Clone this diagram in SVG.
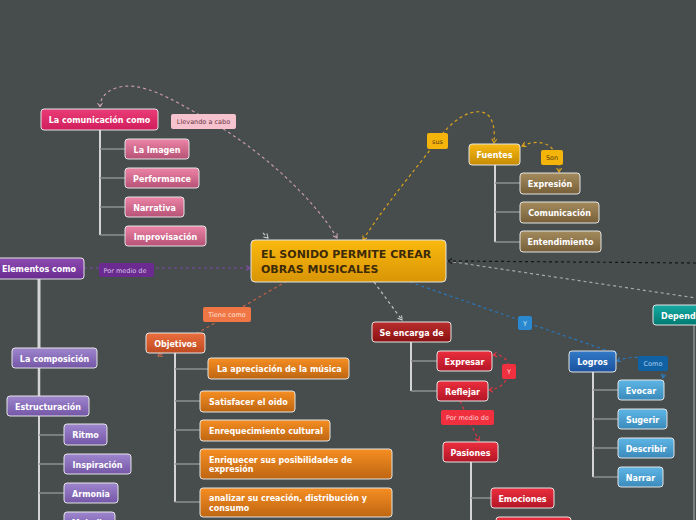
<svg xmlns="http://www.w3.org/2000/svg" width="696" height="520" viewBox="0 0 696 520">
<defs>
<linearGradient id="gCentral" x1="0" y1="0" x2="0" y2="1"><stop offset="0" stop-color="#fbb90f"/><stop offset="1" stop-color="#d89506"/></linearGradient>
<linearGradient id="gComm" x1="0" y1="0" x2="0" y2="1"><stop offset="0" stop-color="#ea3c76"/><stop offset="1" stop-color="#d01e5c"/></linearGradient>
<linearGradient id="gPink" x1="0" y1="0" x2="0" y2="1"><stop offset="0" stop-color="#ec84a6"/><stop offset="1" stop-color="#b65276"/></linearGradient>
<linearGradient id="gGold" x1="0" y1="0" x2="0" y2="1"><stop offset="0" stop-color="#f6b812"/><stop offset="1" stop-color="#c68b04"/></linearGradient>
<linearGradient id="gBrown" x1="0" y1="0" x2="0" y2="1"><stop offset="0" stop-color="#a48b5d"/><stop offset="1" stop-color="#765f39"/></linearGradient>
<linearGradient id="gPurple" x1="0" y1="0" x2="0" y2="1"><stop offset="0" stop-color="#8e4cb0"/><stop offset="1" stop-color="#692b91"/></linearGradient>
<linearGradient id="gLilac" x1="0" y1="0" x2="0" y2="1"><stop offset="0" stop-color="#9e86ce"/><stop offset="1" stop-color="#7456a6"/></linearGradient>
<linearGradient id="gObj" x1="0" y1="0" x2="0" y2="1"><stop offset="0" stop-color="#ec6e3e"/><stop offset="1" stop-color="#be4a20"/></linearGradient>
<linearGradient id="gOrange" x1="0" y1="0" x2="0" y2="1"><stop offset="0" stop-color="#f68e22"/><stop offset="1" stop-color="#be6612"/></linearGradient>
<linearGradient id="gDarkRed" x1="0" y1="0" x2="0" y2="1"><stop offset="0" stop-color="#ba2e2e"/><stop offset="1" stop-color="#8a1010"/></linearGradient>
<linearGradient id="gRed" x1="0" y1="0" x2="0" y2="1"><stop offset="0" stop-color="#ec2e3e"/><stop offset="1" stop-color="#b21626"/></linearGradient>
<linearGradient id="gBlue" x1="0" y1="0" x2="0" y2="1"><stop offset="0" stop-color="#327ac8"/><stop offset="1" stop-color="#1a529e"/></linearGradient>
<linearGradient id="gSky" x1="0" y1="0" x2="0" y2="1"><stop offset="0" stop-color="#5eb6e6"/><stop offset="1" stop-color="#3a8aba"/></linearGradient>
<linearGradient id="gTeal" x1="0" y1="0" x2="0" y2="1"><stop offset="0" stop-color="#16aaa2"/><stop offset="1" stop-color="#007a72"/></linearGradient>
<marker id="aPink" markerWidth="6" markerHeight="6" refX="5" refY="3" orient="auto-start-reverse" markerUnits="userSpaceOnUse"><path d="M1,0.5 L5,3 L1,5.5" fill="none" stroke="#d0a8b8" stroke-width="1"/></marker>
<marker id="aGold" markerWidth="6" markerHeight="6" refX="5" refY="3" orient="auto-start-reverse" markerUnits="userSpaceOnUse"><path d="M1,0.5 L5,3 L1,5.5" fill="none" stroke="#e6a818" stroke-width="1"/></marker>
<marker id="aPurple" markerWidth="6" markerHeight="6" refX="5" refY="3" orient="auto-start-reverse" markerUnits="userSpaceOnUse"><path d="M1,0.5 L5,3 L1,5.5" fill="none" stroke="#8a50b8" stroke-width="1"/></marker>
<marker id="aOrange" markerWidth="6" markerHeight="6" refX="5" refY="3" orient="auto-start-reverse" markerUnits="userSpaceOnUse"><path d="M1,0.5 L5,3 L1,5.5" fill="none" stroke="#e07048" stroke-width="1"/></marker>
<marker id="aGray" markerWidth="6" markerHeight="6" refX="5" refY="3" orient="auto-start-reverse" markerUnits="userSpaceOnUse"><path d="M1,0.5 L5,3 L1,5.5" fill="none" stroke="#d0d0d0" stroke-width="1"/></marker>
<marker id="aBlue" markerWidth="6" markerHeight="6" refX="5" refY="3" orient="auto-start-reverse" markerUnits="userSpaceOnUse"><path d="M1,0.5 L5,3 L1,5.5" fill="none" stroke="#2a80c8" stroke-width="1"/></marker>
<marker id="aRed" markerWidth="6" markerHeight="6" refX="5" refY="3" orient="auto-start-reverse" markerUnits="userSpaceOnUse"><path d="M1,0.5 L5,3 L1,5.5" fill="none" stroke="#e83444" stroke-width="1"/></marker>
<marker id="aBlack" markerWidth="6" markerHeight="6" refX="5" refY="3" orient="auto-start-reverse" markerUnits="userSpaceOnUse"><path d="M1,0.5 L5,3 L1,5.5" fill="none" stroke="#151515" stroke-width="1"/></marker>
</defs>
<style>
.n{stroke:#e4e4e4;stroke-width:1}
.t{font-family:"DejaVu Sans","Liberation Sans",sans-serif;font-weight:bold;font-size:8px;fill:#ffffff;text-anchor:middle}
.tl{font-family:"DejaVu Sans","Liberation Sans",sans-serif;font-weight:bold;font-size:8px;fill:#ffffff}
.lab{font-family:"DejaVu Sans","Liberation Sans",sans-serif;font-size:6.5px;text-anchor:middle}
.rel{fill:none;stroke-width:1.2;stroke-dasharray:3,3}
.trunk{fill:none;stroke:#d4d4d4;stroke-width:2}
.br{fill:none;stroke:#8c8f8f;stroke-width:1.5}
</style>
<rect x="0" y="0" width="696" height="520" fill="#474c4c"/>

<g id="connectors">
  <path class="rel" stroke="#c49aaa" d="M337,238 C315,200 262,150 205,118 C170,98 140,80 116,88 C104,92 100,100 100,107" marker-start="url(#aPink)" marker-end="url(#aPink)"/>
  <path class="rel" stroke="#dca21a" d="M363,240 C385,205 415,170 437,141 C452,120 468,110 482,112 C494,115 495,130 494,143" marker-start="url(#aGold)" marker-end="url(#aGold)"/>
  <path class="rel" stroke="#dca21a" d="M522,146 C545,136 560,148 559,172" marker-start="url(#aGold)" marker-end="url(#aGold)"/>
  <path class="rel" stroke="#7a48a8" d="M84,268 L250,268" marker-end="url(#aPurple)"/>
  <path class="rel" stroke="#c06444" d="M287,281 L158,356" marker-end="url(#aOrange)"/>
  <path class="rel" stroke="#c4c4c4" d="M374,282 L402,320" marker-end="url(#aGray)"/>
  <path class="rel" stroke="#c4c4c4" d="M263,233 L268,238" marker-end="url(#aGray)"/>
  <path class="rel" stroke="#2a76bc" d="M410,282 L617,354" marker-end="url(#aBlue)"/>
  <path class="rel" stroke="#2a76bc" d="M617,361 C640,352 665,360 663,378" marker-start="url(#aBlue)" marker-end="url(#aBlue)"/>
  <path class="rel" stroke="#a8a8a8" d="M447,261 L696,298"/>
  <path class="rel" stroke="#161616" d="M696,263 L448,261" marker-end="url(#aBlack)"/>
  <path class="rel" stroke="#e03444" d="M493,355 C515,352 515,388 489,390" marker-start="url(#aRed)" marker-end="url(#aRed)"/>
  <path class="rel" stroke="#e03444" d="M460,401 L479,441" marker-end="url(#aRed)"/>

  <path class="trunk" d="M100,130 V235"/>
  <path class="br" d="M100,149 H125 M100,178 H125 M100,207 H125 M100,235 H125"/>
  <path class="trunk" d="M495,165 V242"/>
  <path class="br" d="M495,183 H520 M495,212 H520 M495,242 H520"/>
  <path class="trunk" style="stroke-width:3" d="M39,279 V348"/>
  <path class="trunk" style="stroke-width:2.5" d="M39,368 V396"/>
  <path class="trunk" d="M39,416 V520"/>
  <path class="br" d="M39,435 H64 M39,464 H64 M39,493 H64 M39,521 H64"/>
  <path class="trunk" d="M175,353 V502"/>
  <path class="br" d="M175,369 H208 M175,401 H200 M175,430 H200 M175,464 H200 M175,502 H200"/>
  <path class="trunk" d="M411,342 V391"/>
  <path class="br" d="M411,361 H437 M411,391 H437"/>
  <path class="trunk" d="M471,462 V520"/>
  <path class="br" d="M471,498 H491"/>
  <path class="trunk" d="M593,372 V477"/>
  <path class="br" d="M593,390 H618 M593,419 H618 M593,448 H618 M593,477 H618"/>
  <path class="br" d="M694,325 V520"/>
</g>

<g id="central">
  <rect class="n" x="251" y="240" width="195" height="42" rx="4" fill="url(#gCentral)" stroke="#e8b030"/>
  <text x="261" y="257.5" style="font-family:'DejaVu Sans','Liberation Sans',sans-serif;font-weight:bold;font-size:11px;fill:#3c2a08">EL SONIDO PERMITE CREAR</text>
  <text x="261" y="272.5" style="font-family:'DejaVu Sans','Liberation Sans',sans-serif;font-weight:bold;font-size:11px;fill:#3c2a08">OBRAS MUSICALES</text>
</g>

<g id="comunicacion"><rect class="n" x="41" y="109" width="117" height="21" rx="3" fill="url(#gComm)"/><text class="t" x="99.5" y="123">La comunicación como</text></g>
<g id="llevando"><rect x="171" y="114" width="65" height="15" rx="2" fill="#f6c2cd"/><text class="lab" x="203.5" y="124" fill="#6a3848">Llevando a cabo</text></g>
<g id="imagen"><rect class="n" x="125" y="139" width="64" height="20" rx="3" fill="url(#gPink)"/><text class="t" x="157" y="152.5">La Imagen</text></g>
<g id="performance"><rect class="n" x="125" y="168" width="74" height="20" rx="3" fill="url(#gPink)"/><text class="t" x="162" y="181.5">Performance</text></g>
<g id="narrativa"><rect class="n" x="125" y="197" width="59" height="20" rx="3" fill="url(#gPink)"/><text class="t" x="154.5" y="210.5">Narrativa</text></g>
<g id="improvisacion"><rect class="n" x="125" y="226" width="81" height="20" rx="3" fill="url(#gPink)"/><text class="t" x="165.5" y="239.5">Improvisación</text></g>

<g id="sus"><rect x="427" y="133" width="21" height="16" rx="2" fill="#f5b40a"/><text class="lab" x="437.5" y="143.5" fill="#5a3c08">sus</text></g>
<g id="fuentes"><rect class="n" x="469" y="144" width="51" height="21" rx="3" fill="url(#gGold)"/><text class="t" x="494.5" y="158">Fuentes</text></g>
<g id="son"><rect x="541" y="150" width="22" height="15" rx="2" fill="#f5b40a"/><text class="lab" x="552" y="160" fill="#5a3c08">Son</text></g>
<g id="expresion"><rect class="n" x="520" y="173" width="60" height="21" rx="3" fill="url(#gBrown)"/><text class="t" x="550" y="187">Expresión</text></g>
<g id="comunicacion2"><rect class="n" x="520" y="202" width="79" height="21" rx="3" fill="url(#gBrown)"/><text class="t" x="559.5" y="216">Comunicación</text></g>
<g id="entendimiento"><rect class="n" x="520" y="231" width="81" height="21" rx="3" fill="url(#gBrown)"/><text class="t" x="560.5" y="245">Entendimiento</text></g>

<g id="elementos"><rect class="n" x="-6" y="258" width="90" height="21" rx="3" fill="url(#gPurple)"/><text class="t" x="39" y="272">Elementos como</text></g>
<g id="pormedio1"><rect x="99" y="263" width="55" height="14" rx="2" fill="#6a2a90"/><text class="lab" x="125" y="272.5" fill="#d6c4e6">Por medio de</text></g>
<g id="composicion"><rect class="n" x="12" y="348" width="85" height="20" rx="3" fill="url(#gLilac)"/><text class="t" x="54.5" y="361.5">La composición</text></g>
<g id="estructuracion"><rect class="n" x="7" y="396" width="82" height="20" rx="3" fill="url(#gLilac)"/><text class="t" x="48" y="409.5">Estructuración</text></g>
<g id="ritmo"><rect class="n" x="64" y="424" width="43" height="21" rx="3" fill="url(#gLilac)"/><text class="t" x="85.5" y="438">Ritmo</text></g>
<g id="inspiracion"><rect class="n" x="64" y="454" width="67" height="20" rx="3" fill="url(#gLilac)"/><text class="t" x="97.5" y="467.5">Inspiración</text></g>
<g id="armonia"><rect class="n" x="64" y="483" width="54" height="20" rx="3" fill="url(#gLilac)"/><text class="t" x="91" y="496.5">Armonia</text></g>
<g id="melodia"><rect class="n" x="64" y="512" width="51" height="20" rx="3" fill="url(#gLilac)"/><text class="t" x="89.5" y="525.5">Melodia</text></g>

<g id="tienecomo"><rect x="203" y="307" width="48" height="15" rx="2" fill="#f07646"/><text class="lab" x="227" y="317" fill="#ffe2d4">Tiene como</text></g>
<g id="objetivos"><rect class="n" x="146" y="333" width="59" height="20" rx="3" fill="url(#gObj)"/><text class="t" x="175.5" y="346.5">Objetivos</text></g>
<g id="apreciacion"><rect class="n" x="208" y="358" width="141" height="21" rx="3" fill="url(#gOrange)"/><text class="tl" x="217" y="372">La apreciación de la música</text></g>
<g id="satisfacer"><rect class="n" x="200" y="391" width="95" height="21" rx="3" fill="url(#gOrange)"/><text class="tl" x="209" y="405">Satisfacer el oido</text></g>
<g id="enrequecimiento"><rect class="n" x="200" y="420" width="130" height="21" rx="3" fill="url(#gOrange)"/><text class="tl" x="209" y="434">Enrequecimiento cultural</text></g>
<g id="enriquecer"><rect class="n" x="200" y="449" width="192" height="30" rx="3" fill="url(#gOrange)"/><text class="tl" x="209" y="463">Enriquecer sus posibilidades de</text><text class="tl" x="209" y="472">expresión</text></g>
<g id="analizar"><rect class="n" x="200" y="488" width="192" height="29" rx="3" fill="url(#gOrange)"/><text class="tl" x="209" y="501">analizar su creación, distribución y</text><text class="tl" x="209" y="511">consumo</text></g>

<g id="seencarga"><rect class="n" x="372" y="322" width="79" height="20" rx="3" fill="url(#gDarkRed)"/><text class="t" x="411.5" y="335.5">Se encarga de</text></g>
<g id="expresar"><rect class="n" x="437" y="351" width="55" height="20" rx="3" fill="url(#gRed)"/><text class="t" x="464.5" y="364.5">Expresar</text></g>
<g id="reflejar"><rect class="n" x="437" y="381" width="51" height="20" rx="3" fill="url(#gRed)"/><text class="t" x="462.5" y="394.5">Reflejar</text></g>
<g id="yred"><rect x="502" y="364" width="14" height="15" rx="2" fill="#f0303e"/><text class="lab" x="509" y="374" fill="#ffd6d6">Y</text></g>
<g id="pormedio2"><rect x="441" y="410" width="53" height="15" rx="2" fill="#f0303e"/><text class="lab" x="467.5" y="420" fill="#ffd6d6">Por medio de</text></g>
<g id="pasiones"><rect class="n" x="443" y="442" width="55" height="20" rx="3" fill="url(#gRed)"/><text class="t" x="470.5" y="455.5">Pasiones</text></g>
<g id="emociones"><rect class="n" x="491" y="488" width="63" height="20" rx="3" fill="url(#gRed)"/><text class="t" x="522.5" y="501.5">Emociones</text></g>
<g id="pasiones2"><rect class="n" x="496" y="517" width="75" height="20" rx="3" fill="url(#gRed)"/></g>

<g id="yblue"><rect x="518" y="316" width="14" height="14" rx="2" fill="#2a88d0"/><text class="lab" x="525" y="325.5" fill="#d4e8f8">Y</text></g>
<g id="logros"><rect class="n" x="569" y="351" width="47" height="21" rx="3" fill="url(#gBlue)"/><text class="t" x="592.5" y="365">Logros</text></g>
<g id="como"><rect x="638" y="356" width="30" height="15" rx="2" fill="#1062a4"/><text class="lab" x="653" y="366" fill="#a8cef2">Como</text></g>
<g id="evocar"><rect class="n" x="618" y="380" width="46" height="20" rx="3" fill="url(#gSky)"/><text class="t" x="641" y="393.5">Evocar</text></g>
<g id="sugerir"><rect class="n" x="618" y="409" width="49" height="20" rx="3" fill="url(#gSky)"/><text class="t" x="642.5" y="422.5">Sugerir</text></g>
<g id="describir"><rect class="n" x="618" y="438" width="56" height="20" rx="3" fill="url(#gSky)"/><text class="t" x="646" y="451.5">Describir</text></g>
<g id="narrar"><rect class="n" x="618" y="467" width="45" height="20" rx="3" fill="url(#gSky)"/><text class="t" x="640.5" y="480.5">Narrar</text></g>

<g id="dependencias"><rect class="n" x="653" y="305" width="70" height="20" rx="3" fill="url(#gTeal)"/><text class="tl" x="661" y="318.5">Dependencias</text></g>
</svg>
